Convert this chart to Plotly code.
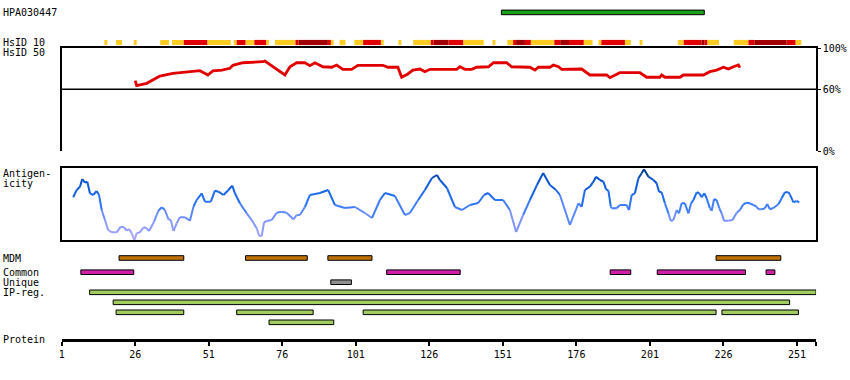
import plotly.graph_objects as go

W, H = 850, 380
FONT = "DejaVu Sans Mono"

# ---------------- data ----------------
protein_length = 257
tick_residues = [1, 26, 51, 76, 101, 126, 151, 176, 201, 226, 251]

antigen_name = "HPA030447"
antigen_start = [151]
antigen_end = [219]

# HsID 10 identity strip (residue ranges and level)
hsid10_start = [16, 20, 26, 35, 39, 43, 51, 60, 61, 64, 67, 71, 74, 81, 82, 92, 93, 96, 101, 104,
                110, 116, 121, 127, 128, 133, 138, 148, 153, 155, 156, 159, 161, 169, 171, 174, 179,
                184, 185, 193, 198, 211, 213, 219, 220, 221, 230, 235, 237, 248, 251]
hsid10_end = [16, 21, 26, 37, 42, 50, 58, 60, 63, 66, 70, 71, 80, 81, 91, 92, 93, 97, 103, 109,
              110, 116, 126, 127, 132, 137, 144, 148, 154, 155, 158, 160, 168, 170, 173, 178, 181,
              184, 192, 194, 198, 212, 218, 219, 220, 224, 234, 236, 247, 250, 252]
hsid10_level = ["low", "low", "low", "low", "low", "mid", "low", "low", "mid", "low", "mid", "low",
                "low", "mid", "high", "mid", "low", "low", "low", "mid", "low", "low", "low", "mid",
                "high", "mid", "low", "low", "low", "mid", "high", "mid", "low", "mid", "high", "mid",
                "low", "low", "mid", "low", "low", "low", "mid", "high", "mid", "low", "low", "mid",
                "high", "mid", "low"]

# HsID 50 identity curve (percent)
hsid50_res = [26.0, 26.5, 29.9, 32.0, 34.4, 38.8, 45.6, 48.0, 50.7, 52.4, 55.5, 58.2, 59.2, 62.6,
              69.4, 70.1, 76.9, 78.6, 80.9, 83.7, 85.4, 87.1, 89.8, 92.8, 94.5, 96.6, 99.6, 101.7,
              110.2, 111.9, 115.3, 116.6, 118.7, 120.4, 122.8, 124.5, 126.2, 135.3, 136.4, 138.1,
              140.4, 142.1, 146.1, 147.8, 152.3, 154.0, 160.2, 161.9, 163.1, 167.0, 168.2, 169.9,
              171.0, 177.8, 180.6, 186.3, 187.4, 190.8, 197.6, 199.9, 204.4, 205.0, 206.1, 211.2,
              212.4, 219.2, 221.4, 223.7, 226.0, 227.7, 229.4, 231.1, 231.6]
hsid50_pct = [68.3, 63.4, 65.7, 68.9, 72.8, 75.4, 77.0, 78.0, 73.8, 77.7, 78.6, 80.3, 83.2, 85.7,
              86.7, 87.4, 73.8, 81.8, 85.7, 85.7, 82.8, 85.7, 81.8, 81.3, 83.5, 79.3, 79.3, 83.2,
              83.2, 81.3, 81.3, 71.6, 74.8, 78.6, 79.6, 77.0, 79.3, 79.3, 81.8, 79.3,
              79.3, 81.3, 81.8, 85.7, 85.7, 81.8, 81.3, 78.6, 81.3, 81.3, 83.5, 81.8,
              79.3, 79.6, 73.8, 73.8, 71.2, 76.0, 76.0, 71.6, 71.6, 73.8, 71.6, 71.6,
              73.8, 73.8, 77.0, 78.6, 81.3, 79.6, 81.8, 83.5, 80.9]

# Antigenicity profile (arbitrary score 0-72)
antigenicity_res = [4.9, 6.1, 7.2, 8.0, 8.9, 9.7, 10.6, 11.7, 12.9, 13.7, 14.6, 15.7, 16.8, 18.0, 19.7,
                    21.1, 22.2, 23.1, 23.9, 24.8, 25.7, 26.5, 27.6, 28.8, 29.9, 30.7, 32.4, 33.9, 35.0,
                    36.1, 37.3, 38.1, 39.0, 40.1, 41.2, 42.9, 44.6, 45.8, 46.9, 48.6, 49.7, 51.7, 53.1,
                    54.3, 56.0, 57.7, 59.0, 59.9, 61.6, 63.9, 65.6, 67.3, 68.2, 69.0, 69.8, 70.7, 72.4,
                    74.1, 75.8, 77.5, 79.8, 80.9, 82.0,
                    83.7, 85.4, 88.8, 91.6, 93.9, 97.3, 100.7, 104.1, 106.5, 109.2, 110.9, 114.3, 117.7,
                    119.4, 122.2, 124.5, 126.9, 128.6, 129.6, 132.0, 134.7, 137.1, 139.8, 142.6, 144.6,
                    146.0, 148.3, 151.1, 153.4, 155.5, 157.9, 160.2, 162.6, 164.7, 167.0, 169.1,
                    170.4, 173.8, 176.7, 177.8, 178.9, 180.6, 181.8, 182.7, 184.0, 185.2, 186.1, 186.9,
                    187.7, 188.0, 189.7, 190.8, 193.1, 193.9, 194.8, 195.9, 197.1, 198.2, 199.0, 200.5,
                    202.2, 203.3, 204.1, 205.0, 206.1, 207.3, 208.1, 209.0, 210.1, 210.9, 211.8, 212.9,
                    214.1, 215.0, 215.8, 216.9, 217.8, 218.6, 219.5, 220.3, 221.4, 222.0, 222.8, 223.7,
                    224.6, 225.4, 226.2, 227.7, 229.1, 230.5, 231.6, 232.8, 233.9, 235.0, 236.2, 237.3,
                    237.9, 239.0, 240.1, 240.9, 241.8, 243.0, 244.7, 245.8, 246.9, 248.1, 248.6, 249.8,
                    250.9, 251.8]
antigenicity_score = [42.7, 50, 53.3, 61, 57.3, 58.3, 46.7, 45, 49, 45, 30, 20, 10, 7.7, 7.7,
                      13.3, 12.7, 9.3, 11, 6.7, 0, 6.7, 7.7, 12.7, 11.7, 9, 18.3, 29.3, 32.7,
                      30, 20.7, 20, 9, 16.7, 22.7, 22.7, 19.3, 33.3, 40, 46.7, 38.3, 38.3, 49.3,
                      48.3, 45, 50, 54.3, 46.7, 36.7, 26.7, 20, 11.7, 4, 4, 17.7, 19, 20,
                      27.3, 28.3, 27.3, 20.7, 25, 25,
                      33, 45, 47, 50, 35, 32, 33, 27, 22, 40, 47, 44, 25,
                      27, 40, 50, 62, 65, 60, 52, 33, 30, 35, 37, 45,
                      47, 40, 40, 30, 8, 25, 40, 55, 67, 55, 50,
                      45, 15, 36.7, 33.3, 50, 53.3, 58.3, 63.3, 60, 58.3, 50.7, 49.3,
                      33.3, 31.7, 31.7, 35, 35, 30, 45, 46.7, 61.7, 66.7, 70.7, 63.3,
                      60, 56.7, 48.3, 47.7, 36.7, 26.7, 19, 20, 30, 26.7, 36.7, 36.7,
                      26.7, 36.7, 40, 47.7, 46.7, 42.7, 46.7, 41.7, 31.7, 29.3, 40.7, 40,
                      31.7, 26.7, 19.3, 19.3, 20, 27.3, 30, 35.7, 37.3, 36.7, 35, 33.3,
                      30.7, 30.7, 31.7, 36, 30.7, 32, 35.7, 41.7, 47.7, 47.7, 45.7, 37.7,
                      39, 37.7]

mdm_start = [21, 64, 92, 224]
mdm_end = [42, 84, 106, 245]
common_start = [8, 112, 188, 204, 241]
common_end = [25, 136, 194, 233, 243]
unique_start = [93]
unique_end = [99]
ipreg1_start = [11]
ipreg1_end = [257]
ipreg2_start = [19]
ipreg2_end = [248]
ipreg3_start = [20, 61, 104, 226]
ipreg3_end = [42, 86, 223, 251]
ipreg4_start = [72]
ipreg4_end = [93]

# ---------------- layout helpers ----------------
PX_LEFT = 61.7
PX_PER_RES = 2.941
X_RANGE = [1, protein_length + 0.5]
PX_RIGHT = PX_LEFT + (X_RANGE[1] - X_RANGE[0]) * PX_PER_RES
XDOM = [PX_LEFT / W, PX_RIGHT / W]


def pyp(p):
    return 1 - p / H


ROW_Y = {"antigen": 12.4, "hsid10": 42.5, "mdm": 258.0, "common": 272.2, "unique": 282.2,
         "ip1": 292.3, "ip2": 302.3, "ip3": 312.3, "ip4": 322.3}

fig = go.Figure()


def add_bars(starts, ends, row, color, height=4.6, outline=True):
    fig.add_trace(go.Bar(
        orientation="h",
        y=[ROW_Y[row]] * len(starts),
        base=[s - 0.5 for s in starts],
        x=[e - s + 1 for s, e in zip(starts, ends)],
        width=height,
        marker=dict(color=color, line=dict(color="black", width=1 if outline else 0)),
        xaxis="x", yaxis="y", hoverinfo="skip",
    ))


add_bars(antigen_start, antigen_end, "antigen", "#1AA01A")

LEVEL_COLORS = {"low": "#FFCC22", "mid": "#E00000", "high": "#A00000"}
for lev, col in LEVEL_COLORS.items():
    st = [s for s, l in zip(hsid10_start, hsid10_level) if l == lev]
    en = [e for e, l in zip(hsid10_end, hsid10_level) if l == lev]
    add_bars(st, en, "hsid10", col, height=5.2, outline=False)

add_bars(mdm_start, mdm_end, "mdm", "#C07000")
add_bars(common_start, common_end, "common", "#D020A8")
add_bars(unique_start, unique_end, "unique", "#909090")
add_bars(ipreg1_start, ipreg1_end, "ip1", "#A0CC60")
add_bars(ipreg2_start, ipreg2_end, "ip2", "#A0CC60")
add_bars(ipreg3_start, ipreg3_end, "ip3", "#A0CC60")
add_bars(ipreg4_start, ipreg4_end, "ip4", "#A0CC60")

# HsID 50 curve
fig.add_trace(go.Scatter(x=hsid50_res, y=hsid50_pct, mode="lines",
                         line=dict(color="#E00000", width=2.8),
                         xaxis="x2", yaxis="y2", hoverinfo="skip"))

# Antigenicity colored line (colour by score)
STOPS = [(0.0, (176, 166, 255)), (0.3, (118, 146, 255)), (0.55, (40, 116, 248)),
         (0.8, (10, 86, 210)), (1.0, (0, 54, 136))]
SMAX = 72.0


def score_color(v):
    t = max(0.0, min(1.0, v / SMAX))
    for (t0, c0), (t1, c1) in zip(STOPS[:-1], STOPS[1:]):
        if t <= t1:
            f = (t - t0) / (t1 - t0)
            return "rgb(%d,%d,%d)" % tuple(round(a + (b - a) * f) for a, b in zip(c0, c1))
    return "rgb(%d,%d,%d)" % STOPS[-1][1]


NB = 14
bins = {i: ([], []) for i in range(NB)}
for i in range(len(antigenicity_res) - 1):
    avg = (antigenicity_score[i] + antigenicity_score[i + 1]) / 2
    b = min(NB - 1, int(avg / SMAX * NB))
    bx, by = bins[b]
    bx += [antigenicity_res[i], antigenicity_res[i + 1], None]
    by += [antigenicity_score[i], antigenicity_score[i + 1], None]
for b, (bx, by) in bins.items():
    if bx:
        fig.add_trace(go.Scatter(x=bx, y=by, mode="lines",
                                 line=dict(color=score_color((b + 0.5) / NB * SMAX), width=2),
                                 xaxis="x3", yaxis="y3", hoverinfo="skip"))

LW = 1.6
fig.update_layout(
    template="none",
    width=W, height=H, margin=dict(l=0, r=0, t=0, b=0, pad=0, autoexpand=False),
    paper_bgcolor="white", plot_bgcolor="white",
    showlegend=False, barmode="overlay",
    font=dict(family=FONT, size=10, color="black"),
    xaxis=dict(domain=XDOM, range=X_RANGE, anchor="free", position=pyp(339.5),
               showline=True, linecolor="black", linewidth=3, ticks="outside",
               ticklen=4, tickwidth=2, tickcolor="black",
               tickvals=tick_residues + [X_RANGE[1]],
               ticktext=[str(t) for t in tick_residues] + [""],
               tickfont=dict(family=FONT, size=10, color="black"),
               showgrid=False, zeroline=False, fixedrange=True, automargin=False),
    yaxis=dict(domain=[0, 1], range=[H, 0], visible=False, fixedrange=True, automargin=False,
               showgrid=False, zeroline=False),
    xaxis2=dict(domain=XDOM, matches="x", anchor="y2", side="top", showline=True,
                linecolor="black", linewidth=LW, showticklabels=False, ticks="",
                showgrid=False, zeroline=False, automargin=False),
    yaxis2=dict(domain=[pyp(151), pyp(48)], range=[0, 100], anchor="x2", side="right",
                showline=True, mirror=True, linecolor="black", linewidth=LW,
                ticks="outside", ticklen=3, tickwidth=1, tickcolor="black",
                tickvals=[0, 60, 100], ticktext=["0%", "60%", "100%"],
                tickfont=dict(family=FONT, size=10, color="black"),
                showgrid=False, zeroline=False, automargin=False),
    xaxis3=dict(domain=XDOM, matches="x", anchor="y3", showline=True, mirror=True,
                linecolor="black", linewidth=LW, showticklabels=False, ticks="",
                showgrid=False, zeroline=False, automargin=False),
    yaxis3=dict(domain=[pyp(240), pyp(168)], range=[0, SMAX], anchor="x3",
                showline=True, mirror=True, linecolor="black", linewidth=LW,
                showticklabels=False, ticks="", showgrid=False, zeroline=False,
                automargin=False),
)

# 60% reference line
fig.add_shape(type="line", xref="x2 domain", yref="y2", x0=0, x1=1, y0=60, y1=60,
              line=dict(color="black", width=LW))

LABELS = [("HPA030447", 12.5), ("HsID 10", 42.5), ("HsID 50", 52.5), ("Antigen-", 173.5),
          ("icity", 183.5), ("MDM", 258), ("Common", 272.5), ("Unique", 282.5),
          ("IP-reg.", 292.5), ("Protein", 339.5)]
for txt, yc in LABELS:
    fig.add_annotation(text=txt, xref="paper", yref="paper", x=1 / W, y=pyp(yc),
                       xanchor="left", yanchor="middle", showarrow=False,
                       font=dict(family=FONT, size=10, color="black"))

fig.write_html("out.html", config={"displayModeBar": False, "staticPlot": True},
               post_script="document.body.style.margin='0';document.body.style.overflow='hidden';")
